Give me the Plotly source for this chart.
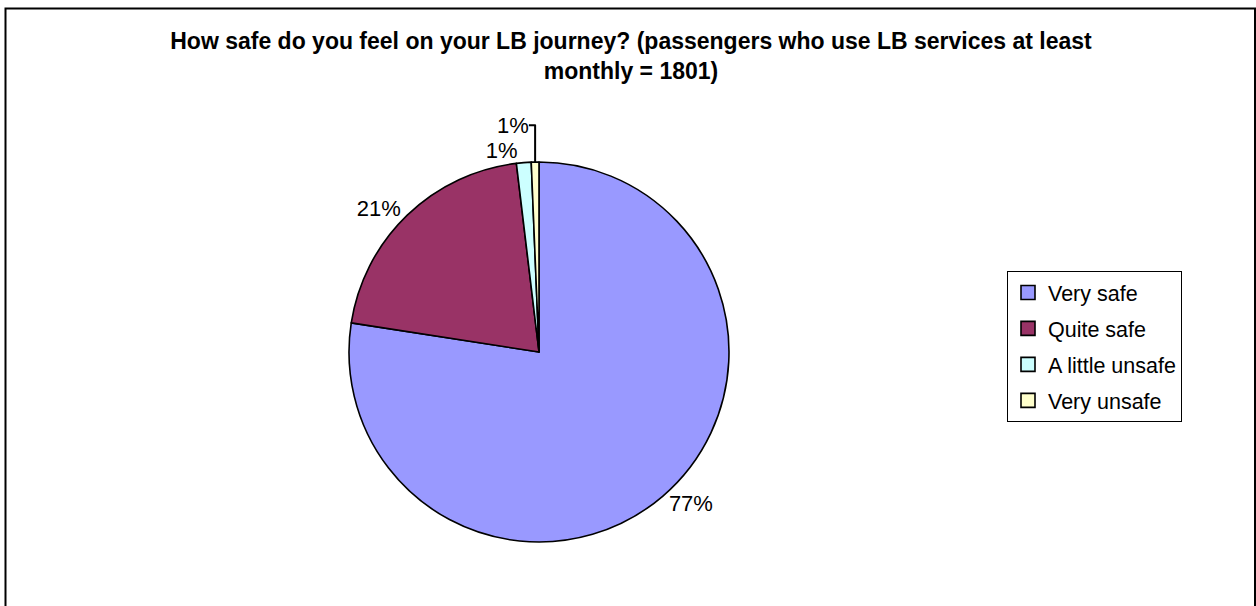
import plotly.graph_objects as go

categories = ["Very safe", "Quite safe", "A little unsafe", "Very unsafe"]
shares = [77.45, 20.65, 1.25, 0.65]
colors = ["#9999FF", "#993366", "#CCFFFF", "#FFFFCC"]
title_text = ("How safe do you feel on your LB journey? (passengers who use LB services at least"
              "<br>monthly = 1801)")

W, H = 1256, 606
FONT = "Arial, Liberation Sans, sans-serif"

cx, cy, r = 539, 352, 190

fig = go.Figure()
fig.add_trace(go.Pie(
    labels=categories,
    values=shares,
    sort=False,
    direction="clockwise",
    rotation=0,
    marker=dict(colors=colors, line=dict(color="black", width=1.6)),
    textinfo="percent",
    texttemplate="%{percent:.0%}",
    textposition="outside",
    textfont=dict(family=FONT, size=22, color="black"),
    domain=dict(x=[(cx - r) / W, (cx + r) / W], y=[(H - cy - r) / H, (H - cy + r) / H]),
    showlegend=False,
    hoverinfo="label+percent",
))

# legend entries (one per category) so the entry spacing can match
for name, col in zip(categories, colors):
    fig.add_trace(go.Scatter(
        x=[None], y=[None], mode="markers", name=name, legendgroup=name,
        marker=dict(symbol="square", size=14, color=col, line=dict(color="black", width=1.6)),
        showlegend=True,
    ))

fig.update_layout(
    width=W, height=H,
    margin=dict(l=0, r=0, t=0, b=0),
    paper_bgcolor="white",
    plot_bgcolor="white",
    font=dict(family=FONT, color="black"),
    xaxis=dict(visible=False),
    yaxis=dict(visible=False),
    title=dict(text=title_text, x=631 / W, xanchor="center", y=1 - 49 / H, yanchor="top",
               font=dict(family=FONT, size=23, color="black", weight="bold")),
    legend=dict(x=1007 / W, y=1 - 271 / H, xanchor="left", yanchor="top",
                bordercolor="black", borderwidth=1, bgcolor="white",
                font=dict(family=FONT, size=21.5, color="black"),
                traceorder="grouped", tracegroupgap=5, itemwidth=30),
    shapes=[dict(type="rect", xref="paper", yref="paper",
                 x0=5.5 / W, x1=1255 / W, y0=-0.02, y1=1 - 8.5 / H,
                 line=dict(color="black", width=2), fillcolor="rgba(0,0,0,0)", layer="below")],
)

fig.write_html("out.html",
               config={"displayModeBar": False},
               post_script="document.body.style.margin='0';document.documentElement.style.margin='0';")
